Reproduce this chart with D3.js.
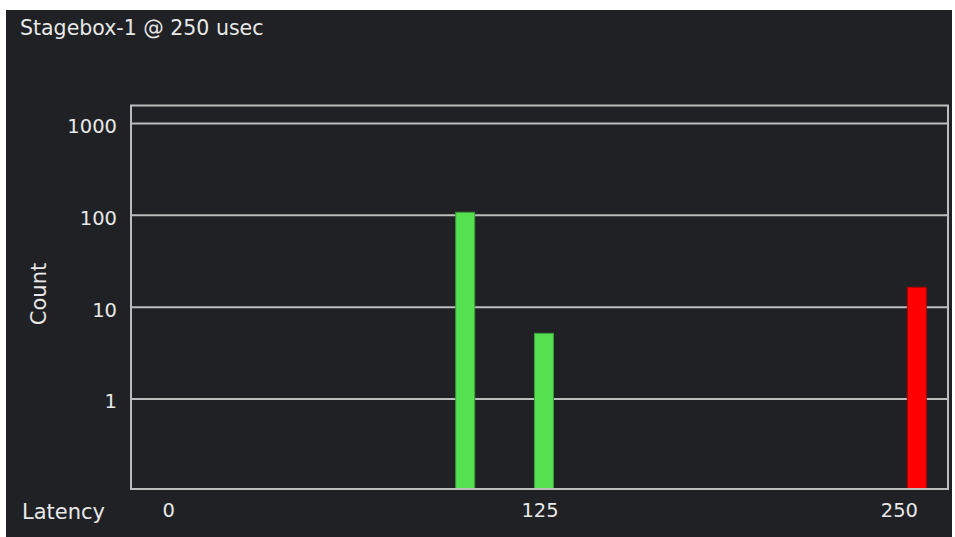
<!DOCTYPE html>
<html><head><meta charset="utf-8">
<script src="https://cdn.jsdelivr.net/npm/d3@7"></script>
<style>
html,body{margin:0;padding:0;background:#fff;}
svg{display:block;}
</style></head>
<body>
<svg id="chart" width="955" height="537"></svg>
<script>
const title = "Stagebox-1 @ 250 usec";
const latencyBins = [100, 126.5, 252];
const counts = [108, 5.2, 16.5];
const barColors = ["#55e04f", "#55e04f", "#ff0000"];
const barStrokes = ["#3c9e3a", "#3c9e3a", "#b00000"];
const xTicks = [0, 125, 250];
const yTicks = [1, 10, 100, 1000];
const xLabel = "Latency";
const yLabel = "Count";

(function () {
const svg = d3.select("#chart");
const font = "'DejaVu Sans', sans-serif";
const pLeft = 131, pRight = 948, pTop = 105.5, pBottom = 489;
const txt = "#e8e8e8";

svg.append("rect").attr("x", 6).attr("y", 10).attr("width", 946).attr("height", 527).attr("fill", "#202124");

svg.append("text").attr("x", 20).attr("y", 35).text(title)
  .attr("fill", txt).attr("font-family", font).attr("font-size", 20.5);

const x = d3.scaleLinear().domain([-12.5, 262.5]).range([pLeft, pRight]);
const y = d3.scaleLog().domain([0.105, 1570]).range([pBottom, pTop]);

svg.append("g").selectAll("line").data(yTicks).join("line")
  .attr("x1", pLeft).attr("x2", pRight)
  .attr("y1", d => y(d)).attr("y2", d => y(d))
  .attr("stroke", "#bdbdbd").attr("stroke-width", 2);

const bw = 19;
svg.append("g").selectAll("rect").data(latencyBins).join("rect")
  .attr("x", (d) => x(d) - bw / 2)
  .attr("width", bw)
  .attr("y", (d, i) => y(counts[i]))
  .attr("height", (d, i) => pBottom - y(counts[i]))
  .attr("fill", (d, i) => barColors[i])
  .attr("stroke", (d, i) => barStrokes[i])
  .attr("stroke-width", 1);

svg.append("rect").attr("x", pLeft).attr("y", pTop).attr("width", pRight - pLeft).attr("height", pBottom - pTop)
  .attr("fill", "none").attr("stroke", "#bdbdbd").attr("stroke-width", 2);

const yAxis = d3.axisLeft(y).tickValues(yTicks).tickFormat(d3.format("d")).tickSize(0).tickPadding(14);
const gy = svg.append("g").attr("transform", `translate(${pLeft},0)`).call(yAxis);
gy.select(".domain").remove();
gy.selectAll("text").attr("fill", txt).attr("font-family", font).attr("font-size", 19.5)
  .attr("dy", "0.45em");

const xAxis = d3.axisBottom(x).tickValues(xTicks).tickFormat(d3.format("d")).tickSize(0).tickPadding(14);
const gx = svg.append("g").attr("transform", `translate(0,${pBottom})`).call(xAxis);
gx.select(".domain").remove();
gx.selectAll("text").attr("fill", txt).attr("font-family", font).attr("font-size", 19.5)
  .attr("dy", "0.72em")
  .attr("dx", (d, i) => i === xTicks.length - 1 ? -12 : 0);

svg.append("text").attr("x", 22).attr("y", 519).text(xLabel)
  .attr("fill", txt).attr("font-family", font).attr("font-size", 21);

svg.append("text").attr("transform", "translate(46,294) rotate(-90)").attr("text-anchor", "middle")
  .text(yLabel).attr("fill", txt).attr("font-family", font).attr("font-size", 21);
})();
</script>
</body></html>
